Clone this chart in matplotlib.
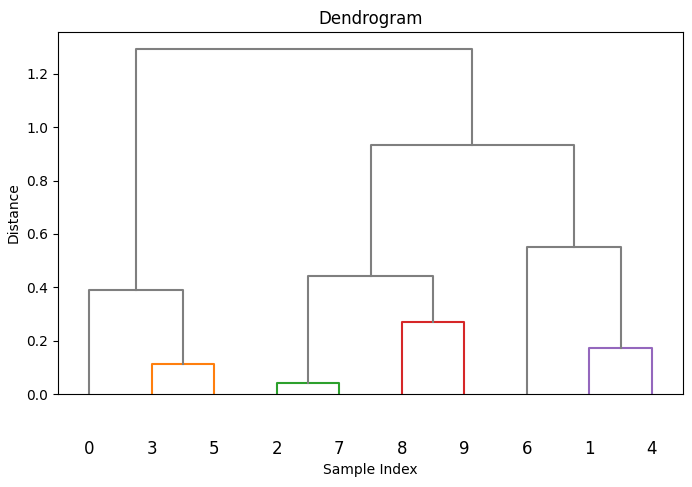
import matplotlib
matplotlib.use("Agg")
import matplotlib.pyplot as plt

# Linkage: (left id, right id, height); leaves are 0..9, new clusters 10+
merge_left = [2, 3, 1, 8, 0, 10, 6, 15, 14]
merge_right = [7, 5, 4, 9, 11, 13, 12, 16, 17]
merge_height = [0.041, 0.112, 0.172, 0.270, 0.390, 0.442, 0.550, 0.933, 1.292]
merge_color = ["C2", "C1", "C4", "C3", "C7", "C7", "C7", "C7", "C7"]
n_leaves = 10

fig = plt.figure(figsize=(6.92, 4.87), dpi=100)
ax = fig.add_axes([58 / 692, (487 - 394) / 487, (683 - 58) / 692, (394 - 32) / 487])

root = n_leaves + len(merge_left) - 1

# leaf order
order = []
def walk(node):
    if node < n_leaves:
        order.append(node)
    else:
        k = node - n_leaves
        walk(merge_left[k])
        walk(merge_right[k])
walk(root)

xpos = {leaf: 5 + 10 * i for i, leaf in enumerate(order)}
ypos = {leaf: 0.0 for leaf in range(n_leaves)}
for k in range(len(merge_left)):
    node = n_leaves + k
    a, b, h = merge_left[k], merge_right[k], merge_height[k]
    xa, xb = xpos[a], xpos[b]
    ax.plot([xa, xa, xb, xb], [ypos[a], h, h, ypos[b]], color=merge_color[k], lw=1.5)
    xpos[node] = (xa + xb) / 2
    ypos[node] = h

ax.set_xlim(0, 10 * n_leaves)
ax.set_ylim(0, max(merge_height) * 1.05)
ax.set_xticks([5 + 10 * i for i in range(n_leaves)])
ax.set_xticklabels([str(l) for l in order], fontsize=12)
ax.tick_params(axis="x", length=0, pad=33)
ax.set_title("Dendrogram", fontsize=12)
ax.set_xlabel("Sample Index")
ax.set_ylabel("Distance")

fig.savefig("out.png", dpi=100)
